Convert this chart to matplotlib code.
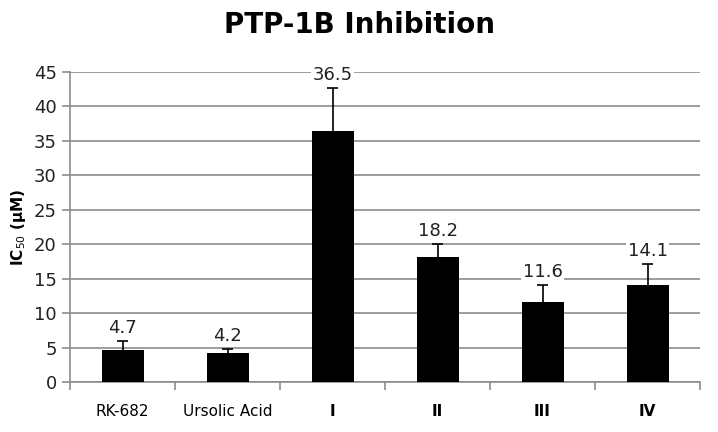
import numpy as np
import matplotlib.pyplot as plt

# IC50 values
compounds = ["RK-682", "Ursolic Acid", "I", "II", "III", "IV"]
ic50 = [4.7, 4.2, 36.5, 18.2, 11.6, 14.1]
err = [1.3, 0.6, 6.2, 1.8, 2.5, 3.0]

fig = plt.figure(figsize=(7.18, 4.32), dpi=100)
ax = fig.add_axes([0.0975, 0.1157, 0.8775, 0.7176])

x = np.arange(len(compounds))
top = np.array(ic50) + np.array(err)
ax.bar(x, ic50, width=0.4, color="black", zorder=4)
# upper-only error bars
ax.vlines(x, ic50, top, color="black", linewidth=1.2, zorder=3)
ax.hlines(top, x - 0.05, x + 0.05, color="black", linewidth=1.2, zorder=3)

for xi, v, t in zip(x, ic50, top):
    ax.text(xi, t + 0.6, f"{v}", ha="center", va="bottom", fontsize=13,
            color="#222222", zorder=5,
            bbox=dict(facecolor="white", edgecolor="none", pad=1))

ax.set_xlim(-0.5, len(compounds) - 0.5)
ax.set_ylim(0, 45)
ax.set_yticks(np.arange(0, 46, 5))
ax.yaxis.grid(True, color="#8c8c8c", linewidth=1.2, zorder=0)
ax.set_axisbelow(True)

# category labels between boundary ticks
ax.set_xticks(np.arange(-0.5, len(compounds), 1))
ax.set_xticklabels([])
ax.set_xticks(x, minor=True)
ax.set_xticklabels(compounds, minor=True, fontsize=11)
for lbl in ax.get_xticklabels(minor=True)[2:]:
    lbl.set_fontweight("bold")
ax.tick_params(axis="x", which="minor", length=0, pad=16)
ax.tick_params(axis="x", which="major", length=6, color="#8c8c8c", width=1.2)
ax.tick_params(axis="y", length=6, color="#8c8c8c", width=1.2, labelsize=13,
               labelcolor="#222222")

for s in ["top", "right"]:
    ax.spines[s].set_visible(False)
for s in ["left", "bottom"]:
    ax.spines[s].set_color("#8c8c8c")
    ax.spines[s].set_linewidth(1.2)

ax.set_ylabel("IC$_{50}$ (μM)", fontsize=11, fontweight="bold")
fig.suptitle("PTP-1B Inhibition", fontsize=20, fontweight="bold", y=0.975)

fig.savefig("out.png", dpi=100)
